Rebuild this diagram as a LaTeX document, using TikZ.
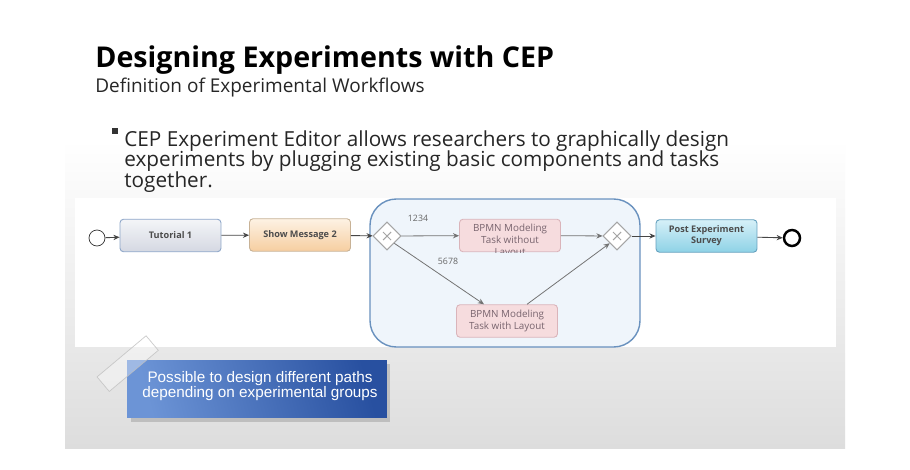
\documentclass[tikz,border=0pt]{standalone}
\usepackage{fontspec}
\setmainfont{Open Sans}
\newfontfamily\calloutfont{Liberation Sans}
\usetikzlibrary{shapes.geometric,arrows.meta,shadows}
\lineskiplimit=-10pt

\definecolor{slidegray}{RGB}{221,221,221}
\definecolor{flowline}{RGB}{70,70,70}
\definecolor{gwline}{RGB}{165,165,165}
\definecolor{tutTop}{RGB}{244,245,248}
\definecolor{tutBot}{RGB}{212,216,226}
\definecolor{tutLine}{RGB}{140,165,200}
\definecolor{msgTop}{RGB}{253,242,228}
\definecolor{msgBot}{RGB}{246,206,160}
\definecolor{msgLine}{RGB}{200,178,150}
\definecolor{bpmnFill}{RGB}{246,220,222}
\definecolor{bpmnLine}{RGB}{218,180,186}
\definecolor{bpmnText}{RGB}{120,100,110}
\definecolor{postTop}{RGB}{214,240,248}
\definecolor{postBot}{RGB}{142,210,230}
\definecolor{postLine}{RGB}{100,160,190}
\definecolor{groupFill}{RGB}{239,245,251}
\definecolor{groupLine}{RGB}{105,145,190}
\definecolor{noteLight}{RGB}{108,148,214}
\definecolor{noteDark}{RGB}{40,80,160}

\begin{document}
\begin{tikzpicture}[x=0.02cm, y=-0.02cm, >={Stealth[length=3.5pt,width=3pt]},
    task/.style={draw, rounded corners=2pt, line width=0.5pt, align=center,
        minimum width=2.02cm, minimum height=0.65cm, inner sep=1pt,
        font=\fontsize{5.2}{6.4}\selectfont\bfseries, text=black!70},
    bpmnbox/.style={task, fill=bpmnFill, draw=bpmnLine, font=\fontsize{5.6}{6.9}\selectfont, text=bpmnText},
    gateway/.style={draw=gwline, fill=white, diamond, aspect=1, minimum size=0.56cm, inner sep=0pt, line width=0.6pt},
    flow/.style={->, draw=flowline, line width=0.5pt},
    innerflow/.style={->, draw=black!55, line width=0.45pt},
    eventnode/.style={draw=black!80, circle, fill=white, minimum size=0.32cm, inner sep=0pt},
    numlabel/.style={font=\fontsize{5}{6}\selectfont, text=black!60}]

    % --- 1. slide background ---
    \fill[white] (0,0) rectangle (910,470);
    \shade[top color=white, bottom color=slidegray] (65,140) rectangle (845,448);
    \fill[white] (75,198) rectangle (836,347);

    % --- 2. title, subtitle, bullet ---
    \node[anchor=base west, inner sep=0pt, font=\fontsize{16.3}{19}\selectfont\bfseries] (title) at (95,67) {Designing Experiments with CEP};
    \node[anchor=base west, inner sep=0pt, font=\fontsize{10.8}{12}\selectfont, text=black!85] (subtitle) at (95,92) {Definition of Experimental Workflows};
    \fill[black!80] (112,128) rectangle (118,134);
    \node[anchor=north west, inner sep=0pt, align=left, font=\fontsize{11.8}{11.7}\selectfont, text=black!85] (bullet) at (124,130)
        {CEP Experiment Editor allows researchers to graphically design\\
         experiments by plugging existing basic components and tasks\\
         together.};

    % --- 3. group of the experimental paths ---
    \draw[groupLine, fill=groupFill, line width=0.8pt, rounded corners=15pt] (370,199) rectangle (640,347);

    % --- 4. tasks and events ---
    \node[eventnode] (start) at (97,238) {};
    \node[task, top color=tutTop, bottom color=tutBot, draw=tutLine] (tutorial) at (170.5,235.5) {Tutorial 1};
    \node[task, top color=msgTop, bottom color=msgBot, draw=msgLine] (message) at (300,235) {Show Message 2};
    \node[gateway] (split) at (387,236) {};
    \node[bpmnbox] (noLayout) at (510,235.5) {};
    \node[bpmnbox] (withLayout) at (507,321) {BPMN Modeling\\Task with Layout};
    \node[gateway] (join) at (617,236) {};
    \node[task, top color=postTop, bottom color=postBot, draw=postLine] (survey) at (706.5,236) {Post Experiment\\Survey};
    \node[eventnode, line width=1.4pt, draw=black] (stop) at (792,238) {};

    % text of the upper task, cut off by its box
    \begin{scope}
        \clip (noLayout.south west) rectangle (noLayout.north east);
        \node[font=\fontsize{5.6}{6.9}\selectfont, text=bpmnText, align=center] (noLayoutText) at ([yshift=-0.11cm]noLayout.center) {BPMN Modeling\\Task without\\Layout};
    \end{scope}

    % crosses of the gateways
    \foreach \g in {split,join} {
        \draw[gwline, line width=0.6pt] ([shift={(-4,-4)}]\g.center) -- ([shift={(4,4)}]\g.center);
        \draw[gwline, line width=0.6pt] ([shift={(-4,4)}]\g.center) -- ([shift={(4,-4)}]\g.center);
    }

    % --- 5. sequence flows ---
    \draw[flow] (start) -- (tutorial);
    \draw[flow] (tutorial) -- (message);
    \draw[flow] (message) -- (split);
    \draw[innerflow] (split) -- (noLayout);
    \draw[innerflow] (split.south east) -- ([xshift=-0.46cm]withLayout.north);
    \draw[innerflow] (noLayout) -- (join);
    \draw[innerflow] ([xshift=0.4cm]withLayout.north) -- (join.south west);
    \draw[flow] (join) -- (survey);
    \draw[flow] (survey) -- (stop);

    \node[numlabel] (lblA) at (418,218) {1234};
    \node[numlabel] (lblB) at (448,261) {5678};

    % --- 6. note with tape ---
    \node[drop shadow={shadow xshift=2pt, shadow yshift=-2pt, opacity=0.35},
          left color=noteLight, right color=noteDark, shading angle=105, minimum width=5.2cm, minimum height=1.16cm,
          align=center, text=white, font=\calloutfont\fontsize{8.7}{8.6}\selectfont] (note) at (257,389) {};
    \node[align=center, text=white, font=\calloutfont\fontsize{8.7}{8.6}\selectfont] (noteText) at (260,386)
          {Possible to design different paths\\depending on experimental groups};
    \draw[black!25, fill=white, fill opacity=0.35, draw opacity=0.8, line width=0.4pt, rotate around={40:(128,364)}]
        (96,354) rectangle (160,373);

\end{tikzpicture}
\end{document}
